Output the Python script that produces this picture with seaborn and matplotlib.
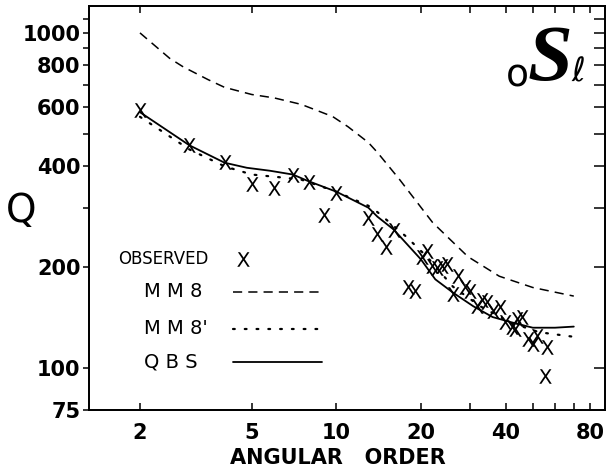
import matplotlib
matplotlib.use("Agg")
import matplotlib.pyplot as plt
import seaborn as sns
import pandas as pd
from matplotlib.ticker import NullFormatter

# ---------------- data ----------------
qbs_order = [2, 3, 4, 4.8, 5.8, 7, 7.9, 10, 13, 14, 16, 20, 22.5, 26, 30.7, 36, 42, 50, 60, 70]
qbs_q = [580, 462, 410, 396, 388, 378, 362, 336, 301, 283, 259, 211, 184, 168, 153, 142, 137, 132, 132, 133]

mm8_order = [2, 2.55, 2.85, 3.5, 4, 5, 6, 7.5, 9.7, 11, 13, 14, 16.8, 22, 25.4, 29.4, 38, 50, 70]
mm8_q = [1000, 840, 792, 725, 688, 655, 640, 612, 563, 525, 471, 440, 365, 272, 242, 215, 188, 174, 164]

mm8p_order = [2, 3, 4, 5, 6.5, 7.5, 10, 13, 14, 17.7, 21, 26, 32.5, 41.5, 52.6, 70]
mm8p_q = [562, 449, 400, 378, 370, 365, 336, 305, 292, 247, 215, 175, 153, 137, 128, 124]

obs_order = [2, 3, 4, 5, 6, 7, 8, 9, 10, 13, 14, 15, 16, 18, 19, 20.2, 21, 21.9, 22.8,
             23.8, 24.7, 26, 27.1, 28.7, 29.9, 31.6, 33, 34.4, 36.1, 38.2, 39.8, 42.2,
             43.2, 43.9, 45.8, 48.1, 50.1, 51.7, 56.1, 55.2]
obs_q = [590, 464, 413, 353, 344, 376, 360, 287, 334, 280, 252, 229, 259, 175, 170, 214,
         223, 201, 199, 201, 204, 166, 188, 174, 170, 153, 160, 158, 148, 152, 137, 133,
         131, 140, 142, 122, 118, 125, 116, 95]

x_major = [2, 5, 10, 20, 40, 80]
x_minor = [30, 50, 60, 70]
y_major = [75, 100, 200, 400, 600, 800, 1000]
y_minor = [300, 500, 700, 900, 1100]
y_right = [100, 200, 300, 400, 500, 600, 700, 800, 900, 1000, 1100]

# ---------------- figure ----------------
sns.set_style("ticks")
plt.rcParams["font.family"] = ["DejaVu Sans"]
plt.rcParams["text.color"] = "black"
plt.rcParams["axes.labelcolor"] = "black"
plt.rcParams["xtick.color"] = "black"
plt.rcParams["ytick.color"] = "black"
plt.rcParams["axes.edgecolor"] = "black"

W, H = 608, 473
fig = plt.figure(figsize=(W / 100, H / 100), dpi=100)
ax = fig.add_axes([89 / W, 63 / H, 516 / W, 404 / H])
ax.set_xscale("log")
ax.set_yscale("log")

mark = r"$\mathsf{X}$"

df_mm8 = pd.DataFrame({"order": mm8_order, "Q": mm8_q})
df_mm8p = pd.DataFrame({"order": mm8p_order, "Q": mm8p_q})
df_qbs = pd.DataFrame({"order": qbs_order, "Q": qbs_q})
df_obs = pd.DataFrame({"order": obs_order, "Q": obs_q})

sns.lineplot(data=df_mm8, x="order", y="Q", ax=ax, color="black", lw=1.1,
             linestyle=(0, (6, 4)))
sns.lineplot(data=df_mm8p, x="order", y="Q", ax=ax, color="black", lw=1.6,
             linestyle=(0, (0.8, 4.5)), dash_capstyle="round")
sns.lineplot(data=df_qbs, x="order", y="Q", ax=ax, color="black", lw=1.3)
sns.scatterplot(data=df_obs, x="order", y="Q", ax=ax, marker=mark, s=110,
                color="black", linewidth=0, zorder=5)

ax.set_xlim(1.317, 90.4)
ax.set_ylim(75, 1203)

ax.set_xticks(x_major, [str(v) for v in x_major], fontsize=15, fontweight="bold")
ax.set_xticks(x_minor, minor=True)
ax.xaxis.set_minor_formatter(NullFormatter())
ax.set_yticks(y_major, [str(v) for v in y_major], fontsize=15, fontweight="bold")
ax.set_yticks(y_minor, minor=True)
ax.yaxis.set_minor_formatter(NullFormatter())

ax.tick_params(axis="x", which="both", direction="in", top=True, bottom=True,
               length=5, width=1.1, pad=9, colors="black")
ax.tick_params(axis="y", which="both", direction="out", left=True, right=False,
               length=4, width=1.1, pad=2, colors="black")

ax2 = ax.twinx()
ax2.set_yscale("log")
ax2.set_ylim(75, 1203)
ax2.set_yticks(y_right)
ax2.yaxis.set_major_formatter(NullFormatter())
ax2.yaxis.set_minor_locator(matplotlib.ticker.NullLocator())
ax2.tick_params(axis="y", which="both", direction="in", right=True, left=False,
                length=8, width=1.1)

for a in (ax, ax2):
    for sp in a.spines.values():
        sp.set_visible(True)
        sp.set_linewidth(1.3)
        sp.set_color("black")

ax.set_xlabel("ANGULAR   ORDER", fontsize=15, fontweight="bold", color="black")
ax.xaxis.set_label_coords(0.483, -0.094)
ax.xaxis.label.set_va("top")
ax.set_ylabel("Q", fontsize=28, rotation=0, ha="center", va="center", color="black")
ax.yaxis.set_label_coords(-0.132, 0.4926)

# legend (text on the left, sample on the right)
tr = ax.transAxes
ax.text(0.0562, 0.3738, "OBSERVED", transform=tr, fontsize=12, ha="left", va="center")
ax.plot([0.2984], [0.3738], marker=mark, ms=10.5, color="black", lw=0, mew=0,
        transform=tr)
ax.text(0.1066, 0.2921, "M M 8", transform=tr, fontsize=14, ha="left", va="center")
ax.plot([0.279, 0.4516], [0.2921, 0.2921], transform=tr, color="black", lw=1.1,
        linestyle=(0, (6, 4)))
ax.text(0.1066, 0.2005, "M M 8'", transform=tr, fontsize=14, ha="left", va="center")
ax.plot([0.279, 0.4516], [0.2005, 0.2005], transform=tr, color="black", lw=1.6,
        linestyle=(0, (0.8, 4.5)), dash_capstyle="round")
ax.text(0.1066, 0.1188, "Q B S", transform=tr, fontsize=14, ha="left", va="center")
ax.plot([0.279, 0.4516], [0.1188, 0.1188], transform=tr, color="black", lw=1.3)

# mode label  oSl
ax.text(0.831, 0.826, "o", transform=tr, fontsize=27, ha="center", va="center")
ax.text(0.893, 0.862, "S", transform=tr, fontsize=58, ha="center", va="center",
        family="Liberation Serif", fontweight="bold", fontstyle="italic")
ax.text(0.948, 0.838, r"$\ell$", transform=tr, fontsize=24, ha="center", va="center")

fig.savefig("out.png", dpi=100)
